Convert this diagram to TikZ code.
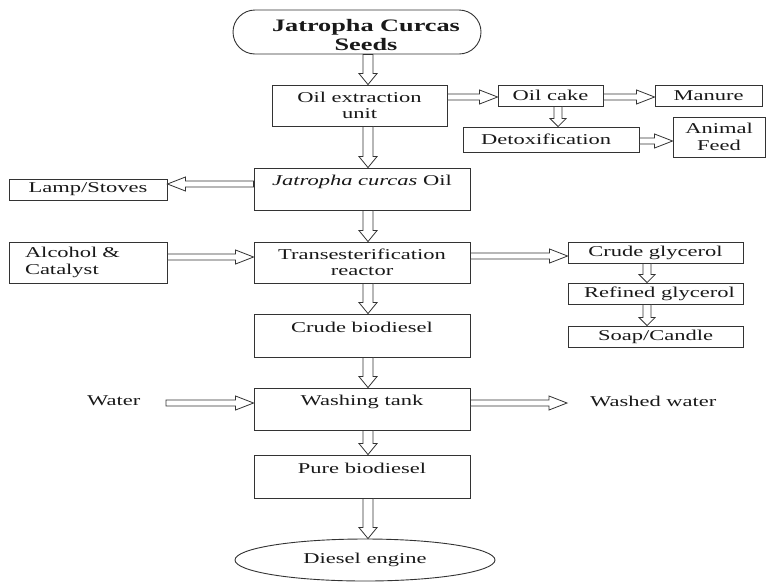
\documentclass[tikz,border=0pt]{standalone}
\usepackage{fontspec}
\setmainfont{Liberation Serif}[FakeStretch=1.5]
\usetikzlibrary{calc,shapes.geometric}
\newcommand\hollowarr[5]{%
  \coordinate (has) at (#4);
  \coordinate (hae) at (#5);
  \coordinate (hah) at ($(hae)!#3!(has)$);
  \draw[harrow] ($(has)!#1!90:(hae)$) -- ($(hah)!#1!90:(hae)$) -- ($(hah)!#2!90:(hae)$) -- (hae)
    -- ($(hah)!#2!-90:(hae)$) -- ($(hah)!#1!-90:(hae)$) -- ($(has)!#1!-90:(hae)$) -- cycle;
}
\newcommand\varr[2]{\hollowarr{5pt}{9pt}{11pt}{#1}{#2}}
\newcommand\sarr[2]{\hollowarr{4pt}{8pt}{8pt}{#1}{#2}}
\newcommand\harr[2]{\hollowarr{3pt}{7pt}{18pt}{#1}{#2}}
\begin{document}
\begin{tikzpicture}[x=1pt,y=-1pt,
  harrow/.style={draw=black!80, line width=0.8pt, fill=white, line join=miter},
  txt/.style={font=\fontsize{15}{16.5}\selectfont, text=black!90, align=center, inner sep=0pt},
  box/.style={txt, draw=black!80, line width=0.9pt, minimum width=#1},
  box/.default=216pt]
\useasboundingbox (0,0) rectangle (767,582);
\fill[white] (0,0) rectangle (767,582);
% axes / levels
\coordinate (ax) at (368,0);
\coordinate (ax2) at (558,0);
\coordinate (ax3) at (647,0);
\coordinate (l97) at (0,97);
\coordinate (l141) at (0,141);
\coordinate (l184) at (0,184);
\coordinate (l257) at (0,257);
\coordinate (l256) at (0,256);
\coordinate (l403) at (0,403);
% nodes
\node[box=248pt, minimum height=44pt, rounded corners=22pt] (seeds) at (357,32) {};
\node[txt, font=\fontsize{17.5}{19}\selectfont\bfseries] (seedstxt) at (366,35) {Jatropha Curcas\\Seeds};
\node[box=175pt, minimum height=41pt] (oil) at (359.5,105.5) {Oil extraction\\unit};
\node[box=105pt, minimum height=21pt] (cake) at (550.5,95.5) {Oil cake};
\node[box=107pt, minimum height=21pt] (manure) at (708.5,95.5) {Manure};
\node[box=176pt, minimum height=25pt] (detox) at (551,139.5) {Detoxification\hspace*{10pt}};
\node[box=92pt, minimum height=40pt] (feed) at (719,137) {Animal\\Feed};
\node[box, minimum height=42pt] (jco) at (362,189) {\textit{Jatropha curcas} Oil\\~};
\node[box=158pt, minimum height=21pt] (lamp) at (88,189.5) {Lamp/Stoves};
\node[box, minimum height=41pt] (trans) at (362,262.5) {Transesterification\\reactor};
\node[box=158pt, minimum height=41pt, align=left, text width=126pt] (alc) at (88,262.5) {Alcohol \&\\Catalyst};
\node[box=175pt, minimum height=21pt] (cg) at (655.5,252.5) {Crude glycerol};
\node[box=175pt, minimum height=21pt] (rg) at (655.5,293.5) {\hspace*{8pt}Refined glycerol};
\node[box=175pt, minimum height=21pt] (soap) at (655.5,336.5) {Soap/Candle};
\node[box, minimum height=43pt] (cb) at (362,335.5) {Crude biodiesel\\~};
\node[box, minimum height=42pt] (wash) at (362,409) {Washing tank\\~};
\node[box, minimum height=43pt] (pure) at (362,476.5) {Pure biodiesel\\~};
\node[txt, draw=black!80, line width=0.9pt, ellipse, minimum width=260pt, minimum height=42pt] (engine) at (365,560) {Diesel engine};
\node[txt, anchor=west] (water) at (87,401) {Water};
\node[txt, anchor=west] (washed) at (590,401) {Washed water};
\coordinate (wst) at (166,403);
\coordinate (wed) at (567,403);
% vertical arrows
\varr{ax |- seeds.south}{ax |- oil.north}
\varr{ax |- oil.south}{ax |- jco.north}
\varr{ax |- jco.south}{ax |- trans.north}
\varr{ax |- trans.south}{ax |- cb.north}
\varr{ax |- cb.south}{ax |- wash.north}
\varr{ax |- wash.south}{ax |- pure.north}
\varr{ax |- pure.south}{ax |- engine.north}
\sarr{ax2 |- cake.south}{ax2 |- detox.north}
\sarr{ax3 |- cg.south}{ax3 |- rg.north}
\sarr{ax3 |- rg.south}{ax3 |- soap.north}
% horizontal arrows
\harr{oil.east |- l97}{cake.west |- l97}
\harr{cake.east |- l97}{manure.west |- l97}
\harr{detox.east |- l141}{feed.west |- l141}
\harr{jco.west |- l184}{lamp.east |- l184}
\harr{alc.east |- l257}{trans.west |- l257}
\harr{trans.east |- l256}{cg.west |- l256}
\harr{wst}{wash.west |- l403}
\harr{wash.east |- l403}{wed}
\end{tikzpicture}
\end{document}
